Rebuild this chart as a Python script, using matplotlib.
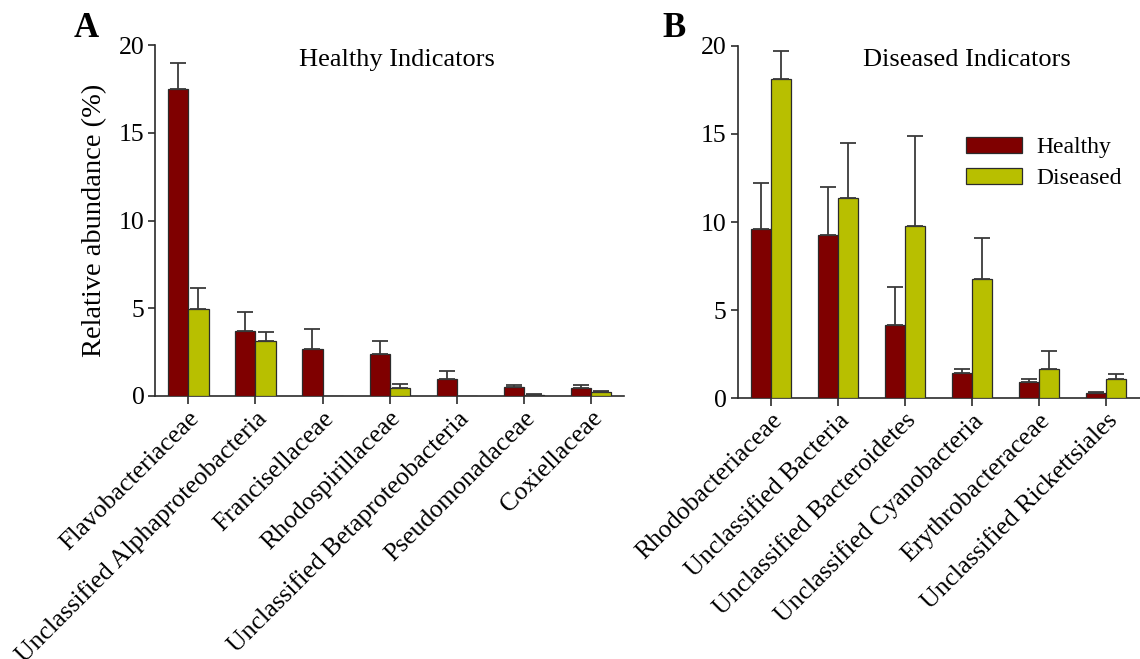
import matplotlib
matplotlib.use("Agg")
import matplotlib.pyplot as plt
import numpy as np

plt.rcParams['font.family'] = ['Liberation Serif', 'DejaVu Serif']

# ---- data ----
cats_a = ["Flavobacteriaceae", "Unclassified Alphaproteobacteria", "Francisellaceae",
          "Rhodospirillaceae", "Unclassified Betaproteobacteria", "Pseudomonadaceae",
          "Coxiellaceae"]
healthy_a = [17.48, 3.73, 2.69, 2.37, 0.98, 0.49, 0.45]
healthy_a_err = [1.50, 1.04, 1.12, 0.74, 0.42, 0.12, 0.16]
diseased_a = [4.96, 3.13, 0.02, 0.45, 0.0, 0.08, 0.21]
diseased_a_err = [1.20, 0.53, 0.0, 0.21, 0.0, 0.02, 0.10]

cats_b = ["Rhodobacteriaceae", "Unclassified Bacteria", "Unclassified Bacteroidetes",
          "Unclassified Cyanobacteria", "Erythrobacteraceae", "Unclassified Rickettsiales"]
healthy_b = [9.61, 9.29, 4.17, 1.46, 0.93, 0.32]
healthy_b_err = [2.60, 2.69, 2.16, 0.23, 0.19, 0.06]
diseased_b = [18.10, 11.34, 9.80, 6.79, 1.69, 1.08]
diseased_b_err = [1.58, 3.12, 5.10, 2.31, 1.02, 0.30]

yticks = [0, 5, 10, 15, 20]
series_names = ["Healthy", "Diseased"]

# ---- style ----
C_H = "#7f0000"
C_D = "#b8bf00"
EDGE = "#2b2b2b"
ERRC = "#3a3a3a"
BW = 0.3

fig = plt.figure(figsize=(11.4, 6.59), dpi=100)
axA = fig.add_axes([0.1364, 0.3991, 0.4114, 0.5326])
axB = fig.add_axes([0.6471, 0.3956, 0.3526, 0.5350])


def draw(ax, cats, h, he, d, de, xlim):
    x = np.arange(len(cats))
    ax.bar(x - BW / 2, h, BW, color=C_H, edgecolor=EDGE, linewidth=0.9, zorder=3,
           label=series_names[0])
    ax.bar(x + BW / 2, d, BW, color=C_D, edgecolor=EDGE, linewidth=0.9, zorder=3,
           label=series_names[1])
    for xs, v, e in ((x - BW / 2, h, he), (x + BW / 2, d, de)):
        v = np.asarray(v); e = np.asarray(e)
        m = e > 0
        ax.errorbar(xs[m], v[m], yerr=[np.zeros(m.sum()), e[m]], fmt='none',
                    ecolor=ERRC, elinewidth=1.3, capsize=6, capthick=1.3, zorder=4)
    ax.set_xlim(*xlim)
    ax.set_ylim(0, 20)
    ax.set_yticks(yticks)
    ax.set_yticklabels([str(t) for t in yticks], fontsize=18.5)
    ax.set_xticks(x)
    ax.set_xticklabels(cats, rotation=45, ha='right', va='top',
                       rotation_mode='anchor', fontsize=18.5)
    for s in ('top', 'right'):
        ax.spines[s].set_visible(False)
    for s in ('left', 'bottom'):
        ax.spines[s].set_color(EDGE)
        ax.spines[s].set_linewidth(1.2)
    ax.tick_params(axis='y', length=5, width=1.2, color=EDGE, pad=3)
    ax.tick_params(axis='x', length=6, width=1.2, color=EDGE, pad=2)


draw(axA, cats_a, healthy_a, healthy_a_err, diseased_a, diseased_a_err, (-0.49, 6.5))
draw(axB, cats_b, healthy_b, healthy_b_err, diseased_b, diseased_b_err, (-0.5, 5.5))

axA.set_ylabel("Relative abundance (%)", fontsize=20.5, labelpad=8)

axA.text(0.515, 0.94, "Healthy Indicators", transform=axA.transAxes,
         ha='center', va='baseline', fontsize=19)
axB.text(0.57, 0.943, "Diseased Indicators", transform=axB.transAxes,
         ha='center', va='baseline', fontsize=19)

leg = axB.legend(loc='upper left', bbox_to_anchor=(0.568, 0.741), frameon=False,
                 fontsize=17, handlelength=2.37, handleheight=0.66,
                 handletextpad=0.6, labelspacing=0.40, borderpad=0, borderaxespad=0)

fig.text(0.065, 0.944, "A", fontsize=25, fontweight='bold', va='baseline')
fig.text(0.581, 0.944, "B", fontsize=25, fontweight='bold', va='baseline')

fig.savefig("out.png", dpi=100)
